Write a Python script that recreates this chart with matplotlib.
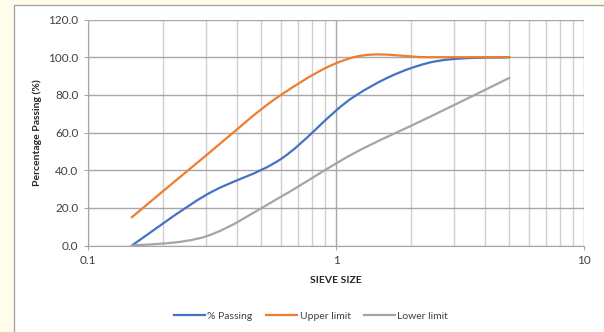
import numpy as np
import matplotlib.pyplot as plt
from matplotlib.path import Path
from matplotlib.patches import PathPatch, Rectangle
from matplotlib.ticker import FixedLocator, NullFormatter

plt.rcParams['font.family'] = ['Lato', 'DejaVu Sans']

sieve = [0.15, 0.3, 0.6, 1.18, 2.36, 5.0]
passing = [0.0, 27.0, 46.0, 79.0, 97.0, 100.0]
upper = [15.0, 48.0, 80.0, 100.0, 100.0, 100.0]
lower = [0.0, 5.0, 26.0, 49.0, 68.0, 89.0]

series = [("% Passing", passing, "#4472C4"),
          ("Upper limit", upper, "#ED7D31"),
          ("Lower limit", lower, "#A5A5A5")]


def smooth_path(xs, ys):
    # excel style smoothed line: bezier segments built in log-x space
    lx = np.log10(xs)
    ys = np.asarray(ys, float)
    n = len(lx)
    verts = [(xs[0], ys[0])]
    codes = [Path.MOVETO]
    for i in range(n - 1):
        i0 = max(i - 1, 0)
        i3 = min(i + 2, n - 1)
        c1x = lx[i] + (lx[i + 1] - lx[i0]) / 6
        c1y = ys[i] + (ys[i + 1] - ys[i0]) / 6
        c2x = lx[i + 1] - (lx[i3] - lx[i]) / 6
        c2y = ys[i + 1] - (ys[i3] - ys[i]) / 6
        verts += [(10 ** c1x, c1y), (10 ** c2x, c2y), (xs[i + 1], ys[i + 1])]
        codes += [Path.CURVE4] * 3
    return Path(verts, codes)


fig = plt.figure(figsize=(6.04, 3.32), dpi=100, facecolor="#FFFCEB")
fig.patches.append(Rectangle((14 / 604, -0.1), 1.0, 1 - 5 / 332 + 0.1,
                             transform=fig.transFigure, facecolor="white",
                             edgecolor="#A6A6A6", linewidth=1.0, zorder=-10))

ax = fig.add_axes([88 / 604, 1 - 245.7 / 332, 496 / 604, 226.2 / 332])
ax.set_facecolor("white")
ax.set_xscale("log")
ax.set_xlim(0.1, 10)
ax.set_ylim(0, 120)

for name, vals, col in series:
    ax.add_patch(PathPatch(smooth_path(sieve, vals), facecolor="none",
                           edgecolor=col, linewidth=1.6, capstyle="round", zorder=3))
    ax.plot([], [], color=col, linewidth=1.6, label=name)

ax.xaxis.set_major_locator(FixedLocator([0.1, 1, 10]))
ax.xaxis.set_minor_locator(FixedLocator([m * d for d in (0.1, 1) for m in range(2, 10)]))
ax.xaxis.set_minor_formatter(NullFormatter())
ax.set_xticklabels(["0.1", "1", "10"])
ax.set_yticks(np.arange(0, 121, 20))
ax.set_yticklabels([f"{v:.1f}" for v in range(0, 121, 20)])

ax.grid(True, which="major", color="#A8A8A8", linewidth=1.0)
ax.grid(True, which="minor", axis="x", color="#D0D0D0", linewidth=1.0)
ax.set_axisbelow(True)

for s in ("top", "right"):
    ax.spines[s].set_visible(False)
for s in ("left", "bottom"):
    ax.spines[s].set_color("#A6A6A6")
ax.tick_params(which="major", length=3, color="#A6A6A6", labelsize=8.5, labelcolor="#404040", pad=4)
ax.tick_params(which="minor", length=0)

ax.set_xlabel("SIEVE SIZE", fontsize=7.5, fontweight="bold", color="#262626", labelpad=7)
ax.set_ylabel("Percentage Passing (%)", fontsize=7.5, fontweight="bold", color="#262626", labelpad=4)

ax.legend(loc="upper center", bbox_to_anchor=(0.45, -0.25), ncol=3, frameon=False,
          fontsize=7.5, handlelength=3.0, handletextpad=0.2, columnspacing=1.3,
          labelcolor="#404040")

fig.savefig("out.png", dpi=100, facecolor=fig.get_facecolor())
